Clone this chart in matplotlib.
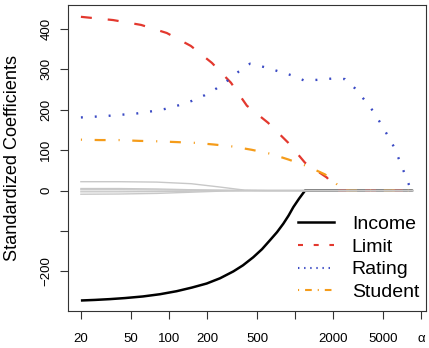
import matplotlib
matplotlib.use("Agg")
import matplotlib.pyplot as plt
from matplotlib.lines import Line2D

plt.rcParams['font.family'] = ['Liberation Sans', 'DejaVu Sans']
plt.rcParams['lines.scale_dashes'] = False

# ---- data ----
lam_income = [20, 25.8, 34, 44.7, 62.1, 84.7, 115, 152, 199, 254, 324, 386, 466, 547,
              632, 719, 807, 888, 969, 1076, 1200, 8600]
income = [-272, -270.6, -268.6, -266, -262, -256.5, -249, -240, -230, -217, -200, -185,
          -165, -145, -123, -103, -82, -62, -41, -20, 0, 0]

lam_limit = [20, 36, 60, 96, 149, 219, 310, 415, 610, 879, 1199, 1793, 2150, 8600]
limit = [430, 422, 410, 390, 358, 316, 267, 210, 168, 119, 69, 32, 0, 0]

lam_rating = [20, 26, 33, 43, 56, 72, 93, 119, 152, 192, 239, 294, 359, 439, 564,
              723, 923, 1170, 1500, 1940, 2490, 2990, 3540, 4130, 4720, 5370, 6070,
              6690, 7360, 8070, 8600]
rating = [181, 183, 185, 188, 191, 196, 202, 211, 222, 236, 253, 273, 295, 314, 306,
          296, 286, 273, 274, 277, 276, 253, 225, 198, 169, 139, 109, 77, 44, 12, 0]

lam_student = [20, 28, 40, 58, 80, 115, 163, 227, 322, 452, 641, 884, 1236, 1727,
               2218, 2311, 8600]
student = [126, 125, 125, 123, 122, 120, 118, 114, 109, 101, 91, 77, 61, 40, 12, 0, 0]

lam_gray = [20, 40, 80, 150, 250, 400, 600, 8600]
gray_series = [
    [22, 22, 21, 17, 9, 1, 0, 0],
    [5, 5, 4, 2, 1, 0, 0, 0],
    [2, 2, 1.5, 1, 0.5, 0, 0, 0],
    [-3, -3, -2.5, -1.5, -0.5, 0, 0, 0],
    [-9, -8.5, -7, -4, -1.5, 0, 0, 0],
]

xticks = [20, 50, 100, 200, 500, 1000, 2000, 5000, 10000]
xticklabels = ['20', '50', '100', '200', '500', '', '2000', '5000', 'α']
yticks = [-200, -100, 0, 100, 200, 300, 400]
yticklabels = ['\u2212200', '', '0', '100', '200', '300', '400']
labels = ['Income', 'Limit', 'Rating', 'Student']

RED = '#e3382e'
BLUE = '#3a4ac4'
ORANGE = '#f59c1a'
GRAY = '#c8c8c8'

W, H = 429, 348
fig = plt.figure(figsize=(W / 100, H / 100), dpi=100)
ax = fig.add_axes([68 / W, 1 - 311 / H, (425.5 - 68) / W, (311 - 4.7) / H])

ax.plot(lam_income, income, color='black', lw=1.8, solid_capstyle='butt')
ax.plot(lam_limit, limit, color=RED, lw=1.6, dashes=(7.9, 11.5))
ax.plot(lam_rating, rating, color=BLUE, lw=1.7, dashes=(1.4, 8.6))
ax.plot(lam_student, student, color=ORANGE, lw=1.6, dashes=(0.8, 9.1, 7.9, 9.3))
for g in gray_series:
    ax.plot(lam_gray, g, color=GRAY, lw=1.0)

ax.set_xscale('log')
ax.set_xlim(15.8, 10840)
ax.set_ylim(-298, 460)

ax.set_xticks(xticks)
ax.set_xticklabels(xticklabels)
ax.xaxis.set_minor_locator(matplotlib.ticker.NullLocator())
ax.set_yticks(yticks)
ax.set_yticklabels(yticklabels)
plt.setp(ax.get_yticklabels(), rotation=90, va='center')

ax.tick_params(axis='both', labelsize=9.5, length=5.8, width=0.8, color='#333333')
ax.tick_params(axis='x', pad=10)
ax.tick_params(axis='y', pad=5.5)
for s in ax.spines.values():
    s.set_color('#333333')
    s.set_linewidth(0.8)

ax.set_ylabel('Standardized Coefficients', fontsize=13.1)
ax.yaxis.label.set_va('center')
ax.yaxis.set_label_coords((12.5 - 68) / 357.5, 0.5)

handles = [
    Line2D([], [], color='black', lw=1.8),
    Line2D([], [], color=RED, lw=1.5, dashes=(3.6, 7.7)),
    Line2D([], [], color=BLUE, lw=1.5, dashes=(1.0, 3.4)),
    Line2D([], [], color=ORANGE, lw=1.5, dashes=(0.8, 4.3, 4.8, 4.3)),
]
ax.legend(handles, labels, loc='upper left',
          bbox_to_anchor=(298 / W, 1 - 215.5 / H), bbox_transform=fig.transFigure,
          frameon=False, fontsize=14, handlelength=1.85, handletextpad=0.92,
          labelspacing=0.26, borderpad=0, borderaxespad=0)

fig.savefig('out.png', dpi=100)
